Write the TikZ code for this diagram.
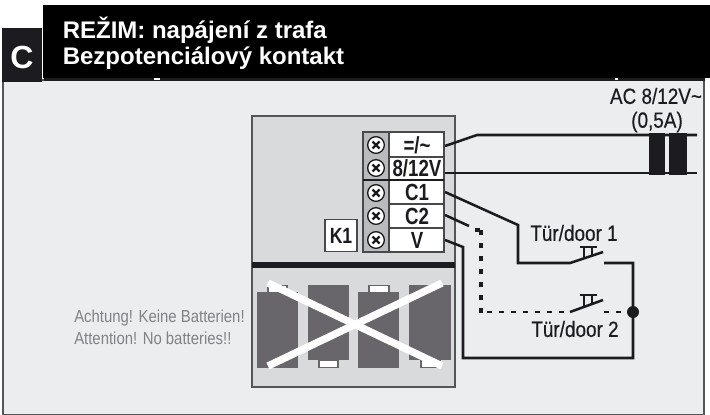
\documentclass[tikz,border=0pt]{standalone}
\usepackage{fontspec}
\setmainfont{Liberation Sans}
\newfontfamily\narrowf[FakeStretch=0.86]{Liberation Sans}
\newfontfamily\narrowd[FakeStretch=0.86,FakeBold=0.4]{Liberation Sans}
\newfontfamily\narrowb[FakeStretch=0.80]{Liberation Sans Bold}
\definecolor{ink}{HTML}{1C1C20}
\definecolor{panelc}{HTML}{ECEDEF}
\definecolor{boxc}{HTML}{D9DADC}
\definecolor{blockc}{HTML}{B9BBBD}
\definecolor{batc}{HTML}{68666A}
\definecolor{noteg}{HTML}{808285}
\tikzset{
  wire/.style={draw=ink,line width=1.9pt,line cap=butt,line join=miter},
  dashwire/.style={draw=ink,line width=2.6pt,dash pattern=on 3.75pt off 6pt},
  dotwire/.style={draw=ink,line width=1.9pt,dash pattern=on 4pt off 5pt},
  term/.style={font=\narrowb\fontsize{17.5}{17.5}\selectfont,text=ink,inner sep=0pt},
  lbl/.style={font=\narrowd\fontsize{16.5}{16.5}\selectfont,text=ink,inner sep=0pt},
  note/.style={font=\narrowf\fontsize{13}{13}\selectfont,text=noteg,inner sep=0pt,anchor=west},
  head/.style={font=\bfseries\fontsize{18}{18}\selectfont,text=white,inner sep=0pt,anchor=west},
  screw/.style={circle,draw=ink,line width=1pt,fill=white,minimum size=12.5pt,inner sep=0pt},
  battery/.style={fill=batc,draw=none},
  capc/.style={fill=white,draw=batc,line width=1.2pt},
  xbar/.style={draw=white,line width=5.5pt}
}
\begin{document}
\begin{tikzpicture}[x=0.75pt,y=-0.75pt]
\useasboundingbox (0,0) rectangle (710,414);
\fill[white] (0,0) rectangle (710,414);
% panel
\fill[panelc,draw=ink!75,line width=.9pt] (3,80) rectangle (704,415);
% header
\fill[ink] (2,28) rectangle (42,82);
\fill[ink] (44,78) rectangle (704.5,81);
\fill[black] (43,5) rectangle (710,78);
\fill[white] (154,78) rectangle (160,80);
\fill[white] (615,78) rectangle (618,80);
\node[font=\bfseries\fontsize{24}{24}\selectfont,text=white,inner sep=0pt] (modeC) at (22,57) {C};
\node[head] (title1) at (62.5,30) {REŽIM: napájení z trafa};
\node[head] (title2) at (62.5,58) {Bezpotenciálový kontakt};
% device
\fill[boxc,draw=ink!75,line width=.9pt] (252,116) rectangle (455,387);
\fill[ink] (252,262) rectangle (455,268);
% terminal block
\fill[white,draw=ink!80,line width=.9pt] (363,132) rectangle (444,252);
\fill[blockc,draw=ink!80,line width=.9pt] (363,132) rectangle (389,252);
\draw[ink!80,line width=.9pt] (389,157) -- (444,157) (389,204) -- (444,204) (389,228) -- (444,228);
\draw[ink,line width=2pt] (363,180) -- (444,180);
\foreach \n/\y in {a/145,b/168,c/193,d/216,e/240}{
  \node[screw] (s\n) at (376,\y) {};
  \draw[ink,line width=1.8pt] (376-3.5,\y-3.5) -- (376+3.5,\y+3.5) (376-3.5,\y+3.5) -- (376+3.5,\y-3.5);
}
\coordinate (tA) at (445,146);
\coordinate (tB) at (445,173);
\coordinate (tC) at (445,192);
\coordinate (tD) at (445,215);
\coordinate (tE) at (445,240);
\node[term] (l1) at (417,145) {=/\char`\~};
\node[term] (l2) at (417,168) {8/12V};
\node[term] (l3) at (417,192) {C1};
\node[term] (l4) at (417,216) {C2};
\node[term] (l5) at (417,240) {V};
\node[draw=ink!80,line width=.9pt,fill=white,minimum width=24pt,minimum height=24.5pt,inner sep=0pt,font=\narrowb\fontsize{16.5}{16.5}\selectfont,text=ink] (K1) at (341,235.5) {K1};
% batteries
\fill[capc] (268,285.5) rectangle (287,293);
\fill[battery] (257,292) rectangle (298,368);
\fill[battery] (308,285) rectangle (349,360);
\fill[capc] (319,360) rectangle (338,367.5);
\fill[capc] (369,285.5) rectangle (389,293);
\fill[battery] (358,292) rectangle (399,368);
\fill[battery] (409,285) rectangle (451,360);
\fill[capc] (421,360) rectangle (440,367.5);
\draw[xbar] (268,283) -- (442,366);
\draw[xbar] (268,366) -- (442,283);
\node[note] (n1) at (74,318) {Achtung! Keine Batterien!};
\node[note] (n2) at (74,338) {Attention! No batteries!!};
% transformer
\coordinate (tr1) at (697,135);
\coordinate (tr2) at (697,173);
\draw[wire] (tA) -- (477,135) -- (tr1);
\draw[wire] (tB) -- (tr2);
\fill[ink] (649,133) rectangle (665,175);
\fill[ink] (669,133) rectangle (687,175);
\node[lbl] (ac) at (656,96) {AC 8/12V\char`\~};
\node[lbl] (amp) at (657,122) {(0,5A)};
% door 1
\coordinate (sw1a) at (570,263);
\coordinate (sw1b) at (603,252);
\coordinate (sw1c) at (604,263);
\node[circle,fill=ink,minimum size=9pt,inner sep=0pt] (dot) at (633,312) {};
\draw[wire] (tC) -- (518,225) -- (518,263) -- (sw1a) -- (sw1b);
\draw[wire] (sw1c) -- (633,263) -- (dot.center) -- (633,358) -- (463,358) -- (463,247) -- (tE);
\draw[ink,line width=2pt] (580,247) -- (597,247) (584,247) -- (584,258) (592,247) -- (592,256);
\node[lbl] (d1) at (574,233) {Tür/door 1};
% door 2
\coordinate (sw2a) at (570,312);
\coordinate (sw2b) at (603,300);
\draw[wire] (tD) -- (469,226);
\draw[dashwire] (475,230) -- (481,230);
\draw[dashwire] (481,230) -- (481,314);
\draw[dotwire] (487,312) -- (sw2a);
\draw[wire] (sw2a) -- (sw2b);
\draw[dotwire] (604,312) -- (dot.center);
\draw[ink,line width=2pt] (580,295) -- (597,295) (584,295) -- (584,306) (592,295) -- (592,304);
\node[lbl] (d2) at (575,329) {Tür/door 2};
\end{tikzpicture}
\end{document}
